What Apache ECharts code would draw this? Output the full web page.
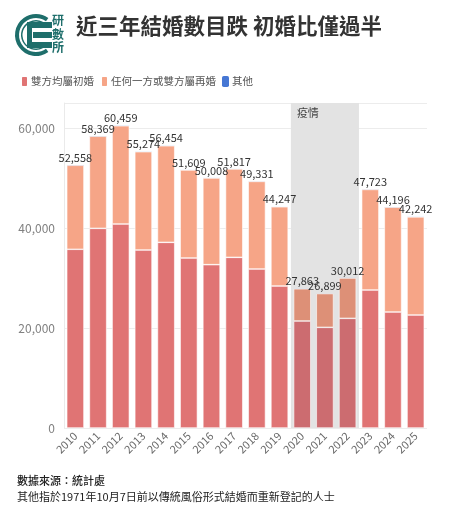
<!DOCTYPE html>
<html>
<head>
<meta charset="utf-8">
<script src="https://cdn.jsdelivr.net/npm/echarts@6/dist/echarts.min.js"></script>
<style>
  html, body { margin: 0; padding: 0; background: #fff; }
  #main { width: 453px; height: 515px; }
</style>
</head>
<body>
<div id="main"></div>
<script>
const years = ['2010','2011','2012','2013','2014','2015','2016','2017','2018','2019','2020','2021','2022','2023','2024','2025'];
// 雙方均屬初婚
const firstMarriage = [35740, 39930, 40800, 35600, 37130, 34000, 32670, 34130, 31800, 28400, 21400, 20130, 21930, 27600, 23200, 22600];
// 任何一方或雙方屬再婚
const remarriage = [16800, 18420, 19640, 19660, 19310, 17600, 17330, 17680, 17520, 15840, 6450, 6760, 8070, 20110, 20980, 19630];
// 其他
const others = [18, 19, 19, 14, 14, 9, 8, 7, 11, 7, 13, 9, 12, 13, 16, 12];
const totals = [52558, 58369, 60459, 55274, 56454, 51609, 50008, 51817, 49331, 44247, 27863, 26899, 30012, 47723, 44196, 42242];
const covidYears = ['2020', '2021', '2022'];

const FONT = '"Noto Sans CJK TC", "Noto Sans", sans-serif';
const C_FIRST = '#e07474', C_RE = '#f6a587', C_OTHER = '#4677d4';
const C_FIRST_D = '#cc6c70', C_RE_D = '#dd9077';

function styled(values, dark) {
  return values.map((v, i) => covidYears.indexOf(years[i]) >= 0
    ? { value: v, itemStyle: { color: dark } } : v);
}

const chart = echarts.init(document.getElementById('main'), null, { renderer: 'canvas' });
chart.setOption({
  animation: false,
  textStyle: { fontFamily: FONT },
  title: {
    text: '近三年結婚數目跌 初婚比僅過半',
    left: 71, top: 10,
    textStyle: { fontSize: 21.5, fontWeight: 'bold', color: '#333', fontFamily: FONT }
  },
  legend: {
    left: 15, top: 70,
    icon: 'roundRect',
    itemWidth: 7, itemHeight: 11, itemGap: 6,
    textStyle: { fontSize: 10.5, color: '#555', padding: [0, 0, 0, -2] },
    data: ['雙方均屬初婚', '任何一方或雙方屬再婚', '其他']
  },
  grid: { left: 64, right: 26, top: 103, bottom: 87 },
  xAxis: {
    type: 'category',
    data: years,
    axisLine: { show: false },
    axisTick: { show: false },
    axisLabel: { rotate: 45, fontSize: 11, color: '#6a6a6a', margin: 6, interval: 0 }
  },
  yAxis: {
    type: 'value',
    min: 0, max: 65000, interval: 20000,
    axisLine: { show: true, lineStyle: { color: '#eaeaea' } },
    axisTick: { show: false },
    splitLine: { lineStyle: { color: '#ececec' } },
    axisLabel: {
      fontSize: 12, color: '#808080', margin: 9, showMaxLabel: false,
      formatter: v => v % 20000 === 0 ? v.toLocaleString('en-US') : ''
    }
  },
  series: [
    {
      name: '雙方均屬初婚', type: 'bar', stack: 'total',
      barCategoryGap: '24%',
      itemStyle: { color: C_FIRST, borderColor: '#fff', borderWidth: 0.6 },
      data: styled(firstMarriage, C_FIRST_D),
      markArea: {
        silent: true,
        itemStyle: { color: '#e3e3e3' },
        label: { show: true, position: 'insideTopLeft', color: '#444', fontSize: 11, offset: [1, -1] },
        data: [[
          { name: '疫情', xAxis: covidYears[0], yAxis: 0 },
          { xAxis: covidYears[covidYears.length - 1], yAxis: 65000 }
        ]]
      }
    },
    {
      name: '任何一方或雙方屬再婚', type: 'bar', stack: 'total',
      itemStyle: { color: C_RE, borderColor: '#fff', borderWidth: 0.6 },
      data: styled(remarriage, C_RE_D)
    },
    {
      name: '其他', type: 'bar', stack: 'total',
      itemStyle: { color: C_OTHER },
      data: others,
      label: {
        show: true, position: 'top', distance: 2,
        fontSize: 11, color: '#333',
        formatter: p => totals[p.dataIndex].toLocaleString('en-US')
      }
    }
  ],
  graphic: [
    // logo
    {
      type: 'sector', shape: { cx: 36, cy: 35, r: 21, r0: 17, startAngle: Math.PI * 0.3, endAngle: Math.PI * 1.7, clockwise: true },
      style: { fill: '#1e6e6b' }
    },
    {
      type: 'sector', shape: { cx: 36, cy: 35, r: 15, r0: 13.5, startAngle: Math.PI * 0.35, endAngle: Math.PI * 1.65 },
      style: { fill: '#1e6e6b' }
    },
    { type: 'rect', shape: { x: 30, y: 22, width: 22, height: 6 }, style: { fill: '#1e6e6b' } },
    { type: 'rect', shape: { x: 33, y: 32, width: 19, height: 6 }, style: { fill: '#1e6e6b' } },
    { type: 'rect', shape: { x: 27, y: 42, width: 25, height: 6 }, style: { fill: '#1e6e6b' } },
    { type: 'rect', shape: { x: 27, y: 22, width: 5, height: 26 }, style: { fill: '#1e6e6b' } },
    {
      type: 'text', left: 52, top: 14,
      style: { text: '研\n數\n所', fill: '#1e6e6b', font: 'bold 12px ' + FONT, lineHeight: 13.5 }
    },
    // footer
    {
      type: 'text', left: 17, top: 475,
      style: { text: '數據來源：統計處', fill: '#222', font: '500 11px ' + FONT }
    },
    {
      type: 'text', left: 17, top: 491,
      style: { text: '其他指於1971年10月7日前以傳統風俗形式結婚而重新登記的人士', fill: '#222', font: '11px ' + FONT }
    }
  ]
});
</script>
</body>
</html>
